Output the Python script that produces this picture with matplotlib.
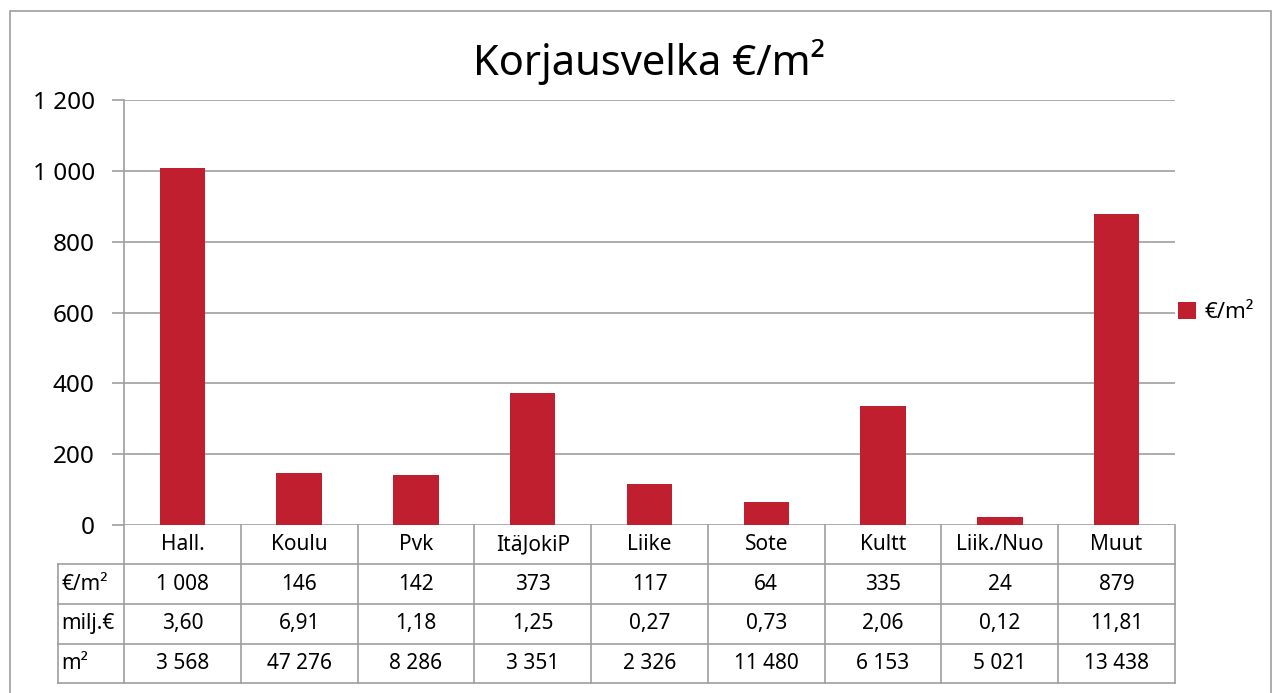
import matplotlib.pyplot as plt
from matplotlib.patches import Rectangle
import matplotlib.transforms as mtransforms

# Korjausvelka per toimiala
kategoriat = ["Hall.", "Koulu", "Pvk", "ItäJokiP", "Liike", "Sote", "Kultt", "Liik./Nuo", "Muut"]
eur_m2 = [1008, 146, 142, 373, 117, 64, 335, 24, 879]
milj_eur = ["3,60", "6,91", "1,18", "1,25", "0,27", "0,73", "2,06", "0,12", "11,81"]
m2 = ["3 568", "47 276", "8 286", "3 351", "2 326", "11 480", "6 153", "5 021", "13 438"]
rivit = ["€/m²", "milj.€", "m²"]

punainen = "#C01F2F"
harmaa = "#9E9E9E"

plt.rcParams['font.family'] = ['Noto Sans', 'DejaVu Sans']

W, H = 1273, 693
fig = plt.figure(figsize=(W / 100, H / 100), dpi=100)

# ulkoreunus
fig.patches.append(Rectangle((10 / W, -0.05), (1271 - 10) / W, 1.05 - 11 / H,
                             transform=fig.transFigure, fill=False,
                             edgecolor=harmaa, linewidth=1.2))

x0, x1, ytop, ybot = 124, 1175, 100, 525
ax = fig.add_axes([x0 / W, 1 - ybot / H, (x1 - x0) / W, (ybot - ytop) / H])

n = len(kategoriat)
paikat = list(range(n))
ax.bar(paikat, eur_m2, width=0.39, color=punainen, zorder=3, label="€/m²")
ax.set_xlim(-0.5, n - 0.5)
ax.set_ylim(0, 1200)
ax.set_yticks(range(0, 1201, 200))
ax.set_yticklabels([f"{v:,}".replace(",", " ") for v in range(0, 1201, 200)], fontsize=17.5)
ax.yaxis.grid(True, color=harmaa, linewidth=1.2, zorder=0)
ax.tick_params(axis='y', length=9, width=1.2, color=harmaa, pad=12)
ax.set_xticks([])
for s in ["top", "right", "bottom"]:
    ax.spines[s].set_visible(False)
ax.spines["left"].set_color(harmaa)
ax.spines["left"].set_linewidth(1.2)

ax.set_title("Korjausvelka €/m²", fontsize=30, pad=18)

leg = ax.legend(loc="center left", bbox_to_anchor=(0.99, 0.5), frameon=False,
                fontsize=16, handlelength=0.8, handleheight=0.8, handletextpad=0.4,
                borderaxespad=0.2)

# taulukko akselin alle
trans = mtransforms.blended_transform_factory(ax.transData, ax.transAxes)
ph = ybot - ytop
def yax(py):
    return (ybot - py) / ph

rajat = [525, 564, 604, 644, 683]
ys = [yax(p) for p in rajat]
lw = 1.2
# vaakaviivat
for y in ys[1:]:
    ax.plot([-0.5, n - 0.5], [y, y], transform=trans, color=harmaa, lw=lw, clip_on=False)
# rivinimien sarake
xl = -0.5 - (x0 - 58) / ((x1 - x0) / n)
for y in ys[1:]:
    ax.plot([xl, -0.5], [y, y], transform=trans, color=harmaa, lw=lw, clip_on=False)
ax.plot([xl, xl], [ys[1], ys[-1]], transform=trans, color=harmaa, lw=lw, clip_on=False)
# pystyviivat
for k in range(n + 1):
    ax.plot([k - 0.5, k - 0.5], [ys[0], ys[-1]], transform=trans, color=harmaa,
            lw=lw, clip_on=False)

# tekstit
for k, nimi in enumerate(kategoriat):
    ax.text(k, (ys[0] + ys[1]) / 2, nimi, transform=trans, ha="center", va="center", fontsize=15)
arvot = [[f"{v:,}".replace(",", " ") for v in eur_m2], milj_eur, m2]
for r in range(3):
    yc = (ys[r + 1] + ys[r + 2]) / 2
    ax.text(xl + 0.03, yc, rivit[r], transform=trans, ha="left", va="center", fontsize=15)
    for k in range(n):
        ax.text(k, yc, arvot[r][k], transform=trans, ha="center", va="center", fontsize=15)

fig.savefig("out.png", dpi=100)
